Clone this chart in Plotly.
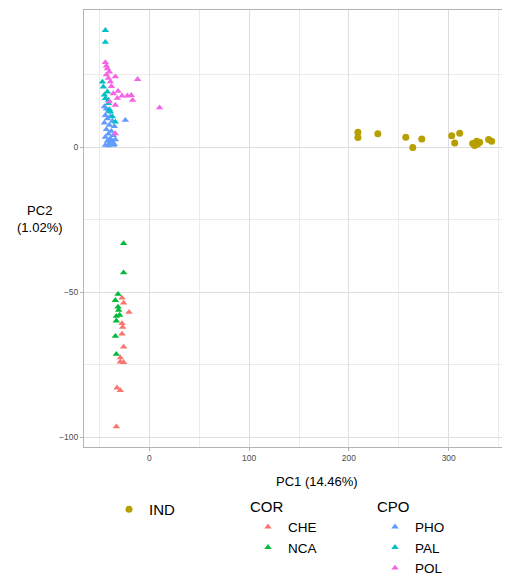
import plotly.graph_objects as go

# ---- data ----
ind_pc1 = [209, 209, 229, 257, 264, 273, 303, 306, 311, 324, 326, 328, 329, 331, 340, 343]
ind_pc2 = [5.1, 3.3, 4.6, 3.4, -0.1, 2.8, 3.9, 1.4, 4.8, 1.3, 0.6, 2.0, 1.1, 1.7, 2.6, 2.0]

che_pc1 = [-27.3, -25.7, -20.3, -27.3, -26.7, -27.3, -25.7, -29.0, -29.0, -25.7, -32.3, -29.0, -33.0]
che_pc2 = [-52.0, -53.7, -56.9, -60.8, -62.1, -64.4, -68.9, -72.6, -74.0, -74.2, -83.0, -83.9, -96.4]

nca_pc1 = [-25.7, -25.7, -31.3, -34.0, -31.3, -30.7, -33.0, -29.7, -33.0, -34.0, -33.0]
nca_pc2 = [-33.2, -43.3, -50.7, -52.8, -55.1, -56.2, -58.3, -57.9, -59.9, -65.2, -71.4]

pho_pc1 = [-45, -43, -41, -44, -39, -42, -37, -45, -40, -35, -43, -38, -41, -36, -44, -39,
           -34, -42, -37, -40, -35, -24, -44, -36, -41, -38]
pho_pc2 = [14.0, 13.2, 12.4, 11.0, 10.6, 9.8, 9.0, 8.4, 7.6, 7.2, 6.1, 5.5, 4.6, 4.1, 3.5, 3.0,
           2.6, 2.1, 1.8, 1.2, 1.0, 9.3, 0.7, 0.7, 0.5, 2.4]

pal_pc1 = [-44, -44, -47, -46, -42, -44, -41, -41, -39, -40, -34, -37, -45]
pal_pc2 = [40.3, 36.2, 22.5, 20.8, 19.1, 16.8, 16.2, 15.1, 12.2, 13.0, 8.7, 10.5, 18.0]

pol_pc1 = [-44, -43, -42, -40, -34, -11.7, -41, -39, -31.3, -27.3, -22, -18, -16.7, -36,
           -32, -40, -34, 10.3, -34, -38, -43]
pol_pc2 = [29.2, 28.0, 27.1, 26.0, 24.3, 23.4, 23.8, 22.6, 19.3, 17.7, 17.7, 17.9, 16.2, 18.5,
           16.9, 15.7, 14.5, 13.6, 4.7, 21.0, 25.0]

x_ticks = [0, 100, 200, 300]
y_ticks = [-100, -50, 0]

FONT = "Liberation Sans, Arial, sans-serif"

fig = go.Figure()


def add(name, xs, ys, color, symbol, size, legend):
    fig.add_trace(go.Scatter(
        x=xs, y=ys, mode="markers", name=name, legend=legend, showlegend=True,
        marker=dict(color=color, symbol=symbol, size=size, line=dict(width=0)),
    ))


add("IND", ind_pc1, ind_pc2, "#B79F00", "circle", 7, "legend")
add("CHE", che_pc1, che_pc2, "#F8766D", "triangle-up", 6.5, "legend2")
add("NCA", nca_pc1, nca_pc2, "#00BA38", "triangle-up", 6.5, "legend2")
add("PHO", pho_pc1, pho_pc2, "#619CFF", "triangle-up", 6.5, "legend3")
add("PAL", pal_pc1, pal_pc2, "#00BFC4", "triangle-up", 6.5, "legend3")
add("POL", pol_pc1, pol_pc2, "#F564E3", "triangle-up", 6.5, "legend3")

axis_common = dict(
    showgrid=True, gridcolor="#DEDEDE", gridwidth=1,
    zeroline=False, showline=True, mirror=True, linecolor="#B3B3B3", linewidth=1,
    ticks="outside", ticklen=3, tickcolor="#B3B3B3", tickwidth=1,
    tickfont=dict(family=FONT, size=8.5, color="#4D4D4D"),
)

# the page body adds an 8px offset; positions below are in figure pixels
W, H = 510, 578
OFF = 8

fig.update_layout(
    width=W, height=H,
    margin=dict(l=84 - OFF, r=W - (510 - OFF), t=10 - OFF, b=H - (447 - OFF), autoexpand=False),
    showlegend=True,
    paper_bgcolor="white", plot_bgcolor="white",
    font=dict(family=FONT, color="black"),
    xaxis=dict(range=[-65.4, 361.4], tickvals=x_ticks,
               minor=dict(tickvals=[-50, 50, 150, 250, 350], showgrid=True,
                          gridcolor="#EBEBEB", gridwidth=0.6),
               **axis_common),
    yaxis=dict(range=[-103.4, 47.3], tickvals=y_ticks,
               minor=dict(tickvals=[-75, -25, 25], showgrid=True,
                          gridcolor="#EBEBEB", gridwidth=0.6),
               **axis_common),
    legend=dict(xref="container", yref="container", x=101 / W, y=(H - 485) / H,
                xanchor="left", yanchor="top", font=dict(size=15, family=FONT),
                bgcolor="rgba(0,0,0,0)"),
    legend2=dict(xref="container", yref="container", x=240 / W, y=(H - 484) / H,
                 xanchor="left", yanchor="top", font=dict(size=13.5, family=FONT),
                 title=dict(text="COR", font=dict(size=15, family=FONT)),
                 bgcolor="rgba(0,0,0,0)"),
    legend3=dict(xref="container", yref="container", x=367 / W, y=(H - 484) / H,
                 xanchor="left", yanchor="top", font=dict(size=13.5, family=FONT),
                 title=dict(text="CPO", font=dict(size=15, family=FONT)),
                 bgcolor="rgba(0,0,0,0)"),
    annotations=[
        dict(text="PC2<br>(1.02%)", xref="paper", yref="paper",
             x=(40 - 84) / 426, y=(447 - 219) / 437, xanchor="center", yanchor="middle",
             showarrow=False, font=dict(size=13, family=FONT, color="black")),
        dict(text="PC1 (14.46%)", xref="paper", yref="paper",
             x=(317 - 84) / 426, y=(447 - 481) / 437, xanchor="center", yanchor="middle",
             showarrow=False, font=dict(size=13, family=FONT, color="black")),
    ],
)

fig.write_html("out.html")
